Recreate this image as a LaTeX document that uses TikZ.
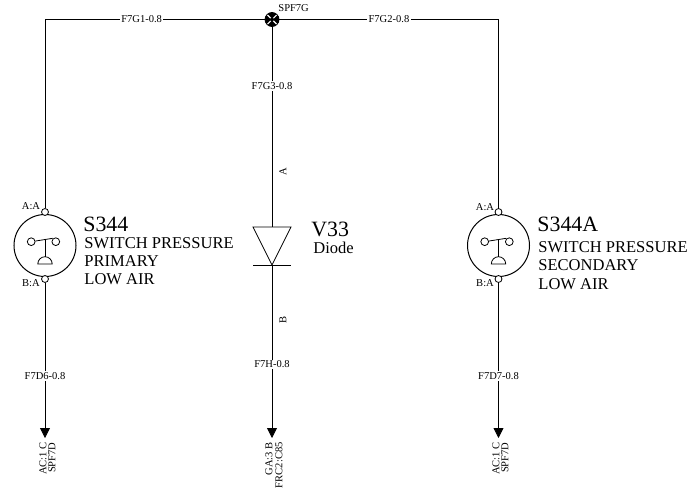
\documentclass[tikz,border=0pt]{standalone}
\usepackage{fontspec}
\setmainfont{Liberation Serif}
\usetikzlibrary{arrows.meta}
\tikzset{
	wire label/.style={fill=white, inner sep=1pt, font=\fontsize{7.9}{8}\selectfont},
	pin label/.style={inner sep=0pt, font=\fontsize{7.9}{8}\selectfont},
	end label/.style={rotate=90, anchor=east, inner sep=0pt, font=\fontsize{7.9}{8}\selectfont},
	part title/.style={anchor=west, inner sep=0pt, font=\fontsize{16.4}{18}\selectfont},
	part text/.style={anchor=west, inner sep=0pt, font=\fontsize{12.4}{14}\selectfont},
	pin/.style={draw, circle, fill=white, inner sep=0pt, minimum size=5.2pt},
	contact/.style={draw, circle, inner sep=0pt, minimum size=5.8pt},
	splice/.style={draw, circle, fill=black, inner sep=0pt, minimum size=10.5pt,
		path picture={
			\draw[white, line width=.8pt]
				(path picture bounding box.south west) -- (path picture bounding box.north east)
				(path picture bounding box.north west) -- (path picture bounding box.south east);
			\fill (path picture bounding box.center) circle (1.5pt);}},
	pressure switch/.pic={
		\node[draw, circle, inner sep=0pt, minimum size=46.5pt, line width=.75pt] (-body) at (0,0) {};
		\node[pin] (-a) at (0,-33.5) {};
		\node[pin] (-b) at (0,33.5) {};
		\node[contact] (-l) at (-13.8,-3.8) {};
		\node[contact] (-r) at (10.8,-3.8) {};
		\draw (-l) -- (7.7,-7.2);
		\draw (0,-6) -- (0,11.2);
		\draw (-7.2,18.5) arc (180:360:7.2 and 7.3) -- cycle;
	}
}
\begin{document}
\begin{tikzpicture}[x=.75pt, y=-.75pt, line width=.6pt]
	\useasboundingbox (0,0) rectangle (688,493);
	\node[splice] (spf) at (272,19.5) {};
	\node[pin label, anchor=west] (spf_t) at (278,8) {SPF7G};

	\pic (s344) at (45,245.5) {pressure switch};
	\pic (s344A) at (498.5,245.5) {pressure switch};
	\coordinate (c_l) at (45,19.5);
	\coordinate (c_r) at (498.5,19.5);
	\coordinate (end_l) at (45,438);
	\coordinate (end_m) at (272,438);
	\coordinate (end_r) at (498.5,438);

	% diode
	\coordinate (v33_a) at (272,227);
	\coordinate (v33_k) at (272,265);
	\draw (253,227) -- (291,227) -- (v33_k) -- cycle;
	\draw (253,265) -- (291,265);

	% wires
	\draw (spf) -- node[wire label, pos=.56] (w1) {F7G1-0.8} (c_l) -- (s344-a);
	\draw (spf) -- node[wire label] (w2) {F7G2-0.8} (c_r) -- (s344A-a);
	\draw (spf) -- node[wire label, pos=.295] (w3) {F7G3-0.8} (v33_a);
	\draw[-{Triangle[length=7.5pt,width=7.5pt]}] (s344-b) -- node[wire label, pos=.6] (w4) {F7D6-0.8} (end_l);
	\draw[-{Triangle[length=7.5pt,width=7.5pt]}] (v33_k) -- node[wire label, pos=.575] (w5) {F7H-0.8} (end_m);
	\draw[-{Triangle[length=7.5pt,width=7.5pt]}] (s344A-b) -- node[wire label, pos=.6] (w6) {F7D7-0.8} (end_r);

	% pins
	\node[pin label] (a_l) at (31,206) {A:A};
	\node[pin label] (b_l) at (31,283) {B:A};
	\node[pin label] (a_r) at (485,207) {A:A};
	\node[pin label] (b_r) at (485,283) {B:A};
	\node[pin label, rotate=90] (seg_a) at (283,172) {A};
	\node[pin label, rotate=90] (seg_b) at (283,320) {B};

	% parts
	\node[part title] (s344_n) at (83,224) {S344};
	\node[part text] (s344_1) at (84,243) {SWITCH PRESSURE};
	\node[part text] (s344_2) at (84,261) {PRIMARY};
	\node[part text] (s344_3) at (84,279) {LOW AIR};
	\node[part title] (v33_n) at (311,229) {V33};
	\node[part text] (v33_1) at (313,248) {Diode};
	\node[part title] (s344A_n) at (537,224) {S344A};
	\node[part text] (s344A_1) at (538,247) {SWITCH PRESSURE};
	\node[part text] (s344A_2) at (538,265) {SECONDARY};
	\node[part text] (s344A_3) at (538,284) {LOW AIR};

	% ends
	\node[end label] (t_l1) at (43,442) {AC:1 C};
	\node[end label] (t_l2) at (52,442) {SPF7D};
	\node[end label] (t_m1) at (269,442) {GA:3 B};
	\node[end label] (t_m2) at (279,442) {FRC2:C85};
	\node[end label] (t_r1) at (496,442) {AC:1 C};
	\node[end label] (t_r2) at (505,442) {SPF7D};
\end{tikzpicture}
\end{document}
